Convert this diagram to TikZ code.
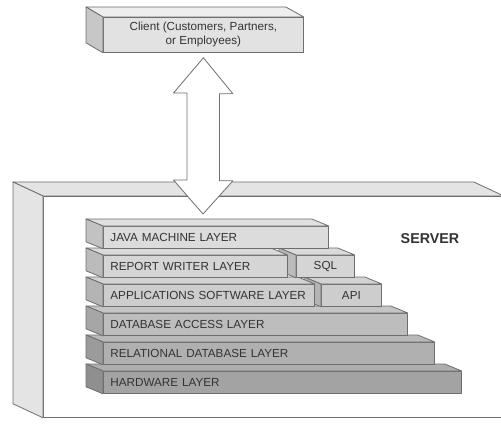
\documentclass[tikz,border=0pt]{standalone}
\usepackage{fontspec}
\setmainfont{Liberation Sans}
\usepackage{xcolor}
\usepackage{tikz}
\usetikzlibrary{arrows,positioning}

\definecolor{edge}{HTML}{6E6E6E}
\definecolor{ink}{HTML}{333333}
\definecolor{clientgray}{HTML}{E2E2E2}
\definecolor{servergray}{HTML}{E4E4E4}
\definecolor{javagray}{HTML}{DCDCDC}
\definecolor{reportgray}{HTML}{D5D5D5}
\definecolor{appsgray}{HTML}{CDCDCD}
\definecolor{dbaccgray}{HTML}{BDBDBD}
\definecolor{relgray}{HTML}{B0B0B0}
\definecolor{hwgray}{HTML}{A3A3A3}

\begin{document}
\begin{tikzpicture}[x=1pt, y=-1pt, line width=0.8pt]
\tikzstyle{face} = [draw=edge, line join=round]
\tikzstyle{slab} = [face, rectangle, anchor=north west, minimum height=22, inner xsep=7, inner ysep=0, align=left, text=ink, font=\fontsize{11.7}{14}\selectfont]
\useasboundingbox (0,0) rectangle (501,425);
\clip (0,0) rectangle (501,425);

\node[face, fill=clientgray, anchor=north west, minimum width=200, minimum height=35, inner sep=0, align=center, text=ink, font=\fontsize{11.7}{14}\selectfont] (client) at (103,17) {Client (Customers, Partners,\\or Employees)};
\draw[face, fill=clientgray!60!white] (client.north west) -- (client.north east) -- ++(-18,-10) -- ([shift={(-17,-10)}]client.north west) -- cycle;
\draw[face, fill=clientgray!88!black] (client.north west) -- (client.south west) -- ++(-17,-10) -- ([shift={(-17,-10)}]client.north west) -- cycle;

\node[face, fill=white, anchor=north west, minimum width=460, minimum height=221, inner sep=0] (server) at (43,196) {};
\draw[face, fill=servergray] (server.north west) -- (server.north east) -- ++(-30,-14) -- ([shift={(-30,-14)}]server.north west) -- cycle;
\draw[face, fill=servergray] (server.north west) -- (server.south west) -- ++(-30,-14) -- ([shift={(-30,-14)}]server.north west) -- cycle;
\node[font=\bfseries\fontsize{14.3}{16}\selectfont, text=ink] (srvlabel) at (430,239) {SERVER};

\coordinate (atop) at ([yshift=-5pt]client.south);
\coordinate (abot) at (203,214);
\draw[face, fill=white] (atop) -- ++(29.5,36) -- ++(-13.5,0) -- ++(0,87) -- ++(13.5,0) -- (abot)
	-- ++(-29.5,-34) -- ++(13.5,0) -- ++(0,-87) -- ++(-13.5,0) -- cycle;

\node[slab, fill=hwgray, text width=344] (hw) at (103,371) {HARDWARE LAYER};
\draw[face, fill=hwgray!88!white] (hw.north west) -- (hw.north east) -- ++(-17,-7) -- ([shift={(-17,-7)}]hw.north west) -- cycle;
\draw[face, fill=hwgray!88!black] (hw.north west) -- (hw.south west) -- ++(-17,-7) -- ([shift={(-17,-7)}]hw.north west) -- cycle;

\node[slab, fill=relgray, text width=317] (rel) at (103,342) {RELATIONAL DATABASE LAYER};
\draw[face, fill=relgray!88!white] (rel.north west) -- (rel.north east) -- ++(-17,-7) -- ([shift={(-17,-7)}]rel.north west) -- cycle;
\draw[face, fill=relgray!88!black] (rel.north west) -- (rel.south west) -- ++(-17,-7) -- ([shift={(-17,-7)}]rel.north west) -- cycle;

\node[slab, fill=dbaccgray, text width=290] (dbacc) at (103,313) {DATABASE ACCESS LAYER};
\draw[face, fill=dbaccgray!88!white] (dbacc.north west) -- (dbacc.north east) -- ++(-17,-7) -- ([shift={(-17,-7)}]dbacc.north west) -- cycle;
\draw[face, fill=dbaccgray!88!black] (dbacc.north west) -- (dbacc.south west) -- ++(-17,-7) -- ([shift={(-17,-7)}]dbacc.north west) -- cycle;

\node[slab, fill=appsgray, text width=46, align=center] (api) at (321,284) {API};
\draw[face, fill=appsgray!88!white] (api.north west) -- (api.north east) -- ++(-17,-7) -- ([shift={(-17,-7)}]api.north west) -- cycle;
\draw[face, fill=appsgray!88!black] (api.north west) -- (api.south west) -- ++(-17,-7) -- ([shift={(-17,-7)}]api.north west) -- cycle;

\node[slab, fill=appsgray, text width=197] (apps) at (103,284) {APPLICATIONS SOFTWARE LAYER};
\draw[face, fill=appsgray!88!white] (apps.north west) -- (apps.north east) -- ++(-17,-7) -- ([shift={(-17,-7)}]apps.north west) -- cycle;
\draw[face, fill=appsgray!88!black] (apps.north west) -- (apps.south west) -- ++(-17,-7) -- ([shift={(-17,-7)}]apps.north west) -- cycle;

\node[slab, fill=reportgray, text width=44, align=center] (sql) at (296,255) {SQL};
\draw[face, fill=reportgray!88!white] (sql.north west) -- (sql.north east) -- ++(-17,-7) -- ([shift={(-17,-7)}]sql.north west) -- cycle;
\draw[face, fill=reportgray!88!black] (sql.north west) -- (sql.south west) -- ++(-17,-7) -- ([shift={(-17,-7)}]sql.north west) -- cycle;

\node[slab, fill=reportgray, text width=170] (report) at (103,255) {REPORT WRITER LAYER};
\draw[face, fill=reportgray!88!white] (report.north west) -- (report.north east) -- ++(-17,-7) -- ([shift={(-17,-7)}]report.north west) -- cycle;
\draw[face, fill=reportgray!88!black] (report.north west) -- (report.south west) -- ++(-17,-7) -- ([shift={(-17,-7)}]report.north west) -- cycle;

\node[slab, fill=javagray, text width=211] (java) at (103,226) {JAVA MACHINE LAYER};
\draw[face, fill=javagray!88!white] (java.north west) -- (java.north east) -- ++(-17,-7) -- ([shift={(-17,-7)}]java.north west) -- cycle;
\draw[face, fill=javagray!88!black] (java.north west) -- (java.south west) -- ++(-17,-7) -- ([shift={(-17,-7)}]java.north west) -- cycle;
\end{tikzpicture}
\end{document}
